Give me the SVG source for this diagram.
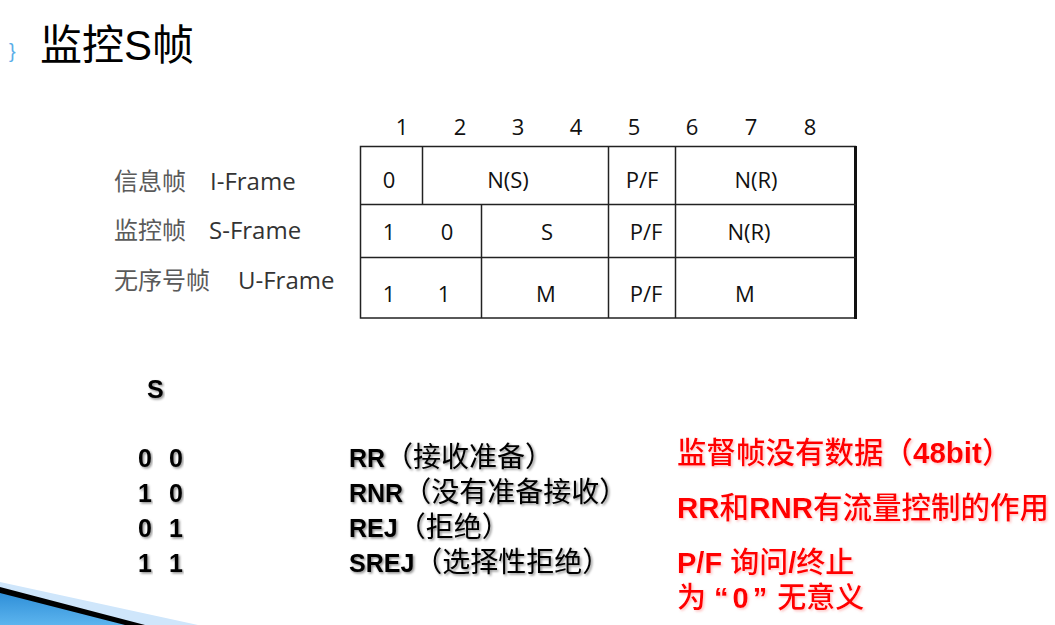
<svg xmlns="http://www.w3.org/2000/svg" width="1055" height="625" viewBox="0 0 1055 625">
<defs>
<style>
.t{font-family:"Open Sans","Noto Sans CJK SC",sans-serif;font-size:22px;fill:#111;text-anchor:middle}
.lab{font-family:"Open Sans","Noto Sans CJK SC",sans-serif;font-size:24px;fill:#333}
.cj{font-family:"Liberation Sans","Noto Sans CJK SC",sans-serif;font-size:24px;fill:#5a5a5a}
.b{font-family:"Liberation Sans","Noto Sans CJK SC",sans-serif;font-size:25px;font-weight:bold;fill:#000;filter:url(#sh)}
.bc{font-size:28px;font-weight:normal}
.r{font-family:"Liberation Sans","Noto Sans CJK SC",sans-serif;font-size:29.5px;font-weight:bold;fill:#f00;filter:url(#shr)}
.r2{font-size:29px}
.rc{font-weight:500}
.ln{stroke:#222;stroke-width:1.5;fill:none}
</style>
<filter id="sh" x="-5%" y="-20%" width="110%" height="140%"><feDropShadow dx="1.5" dy="1.5" stdDeviation="0.8" flood-color="#000" flood-opacity="0.45"/></filter>
<filter id="shr" x="-5%" y="-20%" width="110%" height="140%"><feDropShadow dx="1.5" dy="1.5" stdDeviation="0.8" flood-color="#f88" flood-opacity="0.5"/></filter>
<linearGradient id="bg" x1="0" y1="0" x2="0" y2="1"><stop offset="0" stop-color="#2f8fd8"/><stop offset="1" stop-color="#5cb4ee"/></linearGradient>
</defs>
<rect width="1055" height="625" fill="#fff"/>
<g id="decor">
<polygon points="0,582 198,625 0,625" fill="#cfe6fb"/>
<polygon points="0,587 145,625 0,625" fill="#000"/>
<polygon points="0,593 125,625 0,625" fill="url(#bg)"/>
<text x="9" y="58" font-family="Liberation Sans,sans-serif" font-size="20" fill="#5aaee8">}</text>
</g>
<g id="title"><text x="40" y="60" font-family="Liberation Sans,Noto Sans CJK SC,sans-serif" font-size="42" fill="#000">监控S帧</text></g>
<g id="bit-numbers">
<text class="t" x="402" y="135">1</text><text class="t" x="460" y="135">2</text><text class="t" x="518" y="135">3</text><text class="t" x="576" y="135">4</text><text class="t" x="634" y="135">5</text><text class="t" x="692" y="135">6</text><text class="t" x="751" y="135">7</text><text class="t" x="810" y="135">8</text>
</g>
<g id="row-labels">
<text class="cj" x="114" y="190">信息帧</text><text class="lab" x="210" y="190">I-Frame</text>
<text class="cj" x="114" y="239">监控帧</text><text class="lab" x="209" y="239">S-Frame</text>
<text class="cj" x="114" y="289">无序号帧</text><text class="lab" x="238" y="289">U-Frame</text>
</g>
<g id="table">
<rect class="ln" x="360.5" y="146.5" width="495" height="171.5"/>
<line x1="855.5" y1="146" x2="855.5" y2="319" stroke="#111" stroke-width="3"/>
<line class="ln" x1="360" y1="204.5" x2="856" y2="204.5"/>
<line class="ln" x1="360" y1="257.5" x2="856" y2="257.5"/>
<line class="ln" x1="422.5" y1="146" x2="422.5" y2="204"/>
<line class="ln" x1="481.5" y1="204" x2="481.5" y2="318"/>
<line class="ln" x1="608.5" y1="146" x2="608.5" y2="318"/>
<line class="ln" x1="675.5" y1="146" x2="675.5" y2="318"/>
<text class="t" x="389" y="188">0</text><text class="t" x="508" y="188">N(S)</text><text class="t" x="642" y="188">P/F</text><text class="t" x="756" y="188">N(R)</text>
<text class="t" x="389" y="240">1</text><text class="t" x="447" y="240">0</text><text class="t" x="547" y="240">S</text><text class="t" x="646" y="240">P/F</text><text class="t" x="749" y="240">N(R)</text>
<text class="t" x="389" y="302">1</text><text class="t" x="444" y="302">1</text><text class="t" x="546" y="302">M</text><text class="t" x="646" y="302">P/F</text><text class="t" x="745" y="302">M</text>
</g>
<g id="s-codes">
<text class="b" x="147" y="398">S</text>
<text class="b" x="138" y="467">0</text><text class="b" x="169" y="467">0</text>
<text class="b" x="138" y="502">1</text><text class="b" x="169" y="502">0</text>
<text class="b" x="138" y="537">0</text><text class="b" x="169" y="537">1</text>
<text class="b" x="138" y="572">1</text><text class="b" x="169" y="572">1</text>
</g>
<g id="s-names">
<text class="b" x="349" y="467">RR<tspan class="bc">（接收准备）</tspan></text>
<text class="b" x="349" y="502">RNR<tspan class="bc">（没有准备接收）</tspan></text>
<text class="b" x="349" y="537">REJ<tspan class="bc">（拒绝）</tspan></text>
<text class="b" x="349" y="572">SREJ<tspan class="bc">（选择性拒绝）</tspan></text>
</g>
<g id="notes">
<text class="r" x="677" y="463"><tspan class="rc">监督帧没有数据（</tspan>48bit<tspan class="rc">）</tspan></text>
<text class="r" x="677" y="518">RR<tspan class="rc">和</tspan>RNR<tspan class="rc">有流量控制的作用</tspan></text>
<text class="r r2" x="677" y="573">P/F <tspan class="rc">询问</tspan>/<tspan class="rc">终止</tspan></text>
<text class="r r2" x="677" y="608"><tspan class="rc">为</tspan><tspan dx="8">“</tspan><tspan dx="4">0</tspan><tspan dx="4">”</tspan><tspan class="rc" dx="10">无意义</tspan></text>
</g>
</svg>
